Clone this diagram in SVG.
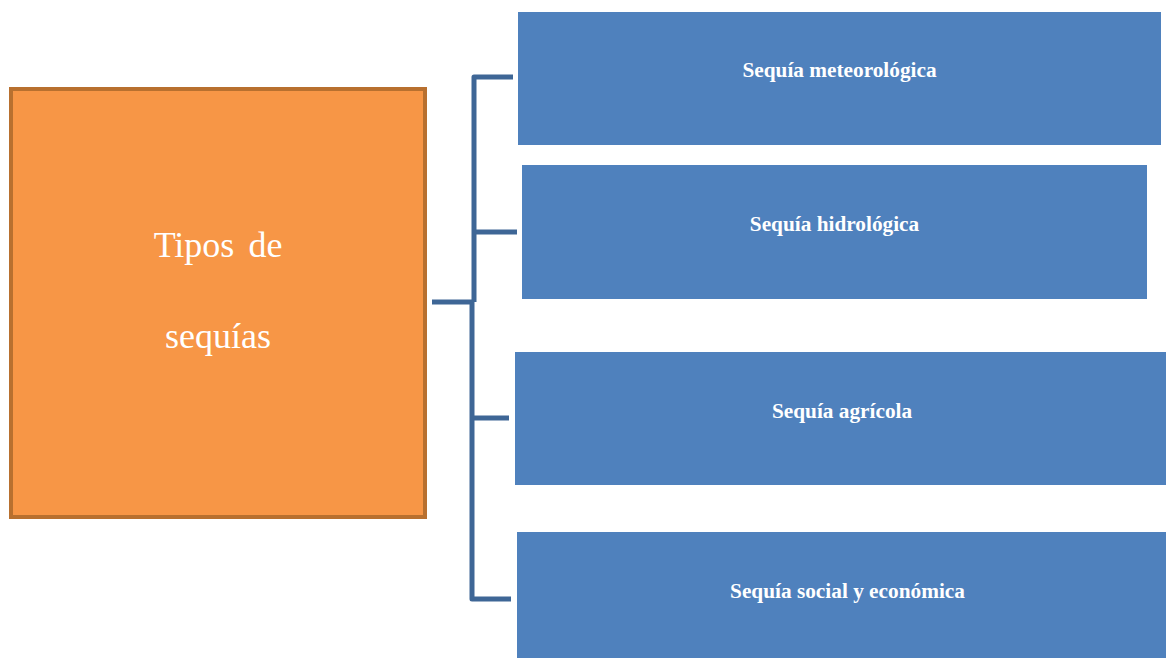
<svg xmlns="http://www.w3.org/2000/svg" width="1166" height="658" viewBox="0 0 1166 658">
<style>
.box{fill:#4F81BD;}
.lbl{font-family:"Liberation Serif","DejaVu Serif",serif;font-weight:bold;font-size:21.3px;fill:#FFFFFF;text-anchor:middle;}
.main{font-family:"Liberation Serif","DejaVu Serif",serif;font-size:36px;fill:#FFFFFF;text-anchor:middle;word-spacing:5px;}
.conn{fill:none;stroke:#3E6696;stroke-width:5;stroke-linejoin:round;}
</style>
<rect width="1166" height="658" fill="#FFFFFF"/>
<g id="connectors">
<path class="conn" d="M513 77 H474 V302"/>
<path class="conn" d="M517 232 H474"/>
<path class="conn" d="M432 302 H474"/>
<path class="conn" d="M472 302 V599 H511"/>
<path class="conn" d="M509 418 H472"/>
</g>
<g id="tipos">
<rect x="11" y="89" width="414" height="428" fill="#F79646" stroke="#B8702F" stroke-width="4"/>
<text class="main" x="218" y="257">Tipos de</text>
<text class="main" x="218" y="348">sequías</text>
</g>
<g id="meteorologica">
<rect class="box" x="518" y="12" width="643" height="133"/>
<text class="lbl" x="839.5" y="77">Sequía meteorológica</text>
</g>
<g id="hidrologica">
<rect class="box" x="522" y="165" width="625" height="134"/>
<text class="lbl" x="834.5" y="231">Sequía hidrológica</text>
</g>
<g id="agricola">
<rect class="box" x="515" y="352" width="651" height="133"/>
<text class="lbl" x="842" y="418">Sequía agrícola</text>
</g>
<g id="social">
<rect class="box" x="517" y="532" width="649" height="126"/>
<text class="lbl" x="847.5" y="598">Sequía social y económica</text>
</g>
</svg>
